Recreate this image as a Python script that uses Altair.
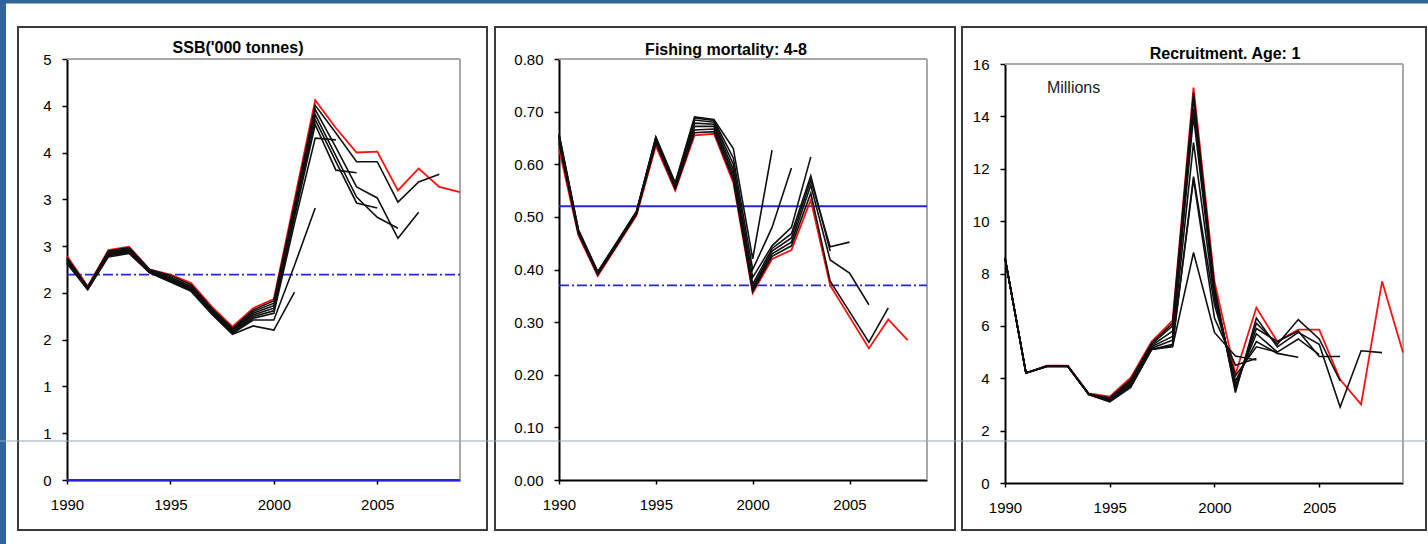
import altair as alt
import pandas as pd

CANVAS_W, CANVAS_H = 1428, 544
FIRST_YEAR, LAST_YEAR = 1990, 2009
YEAR_TICKS = [1990, 1995, 2000, 2005]

# ---- SSB ('000 tonnes): latest assessment (1990-2009) and retrospective runs
SSB_LATEST = [2.66, 2.30, 2.73, 2.77, 2.50, 2.44, 2.34, 2.06, 1.82, 2.04,
              2.15, 3.33, 4.51, 4.18, 3.89, 3.90, 3.44, 3.70, 3.48, 3.42]
SSB_RETRO = [
    [2.64, 2.29, 2.72, 2.76, 2.50, 2.43, 2.32, 2.04, 1.80, 2.02, 2.13, 3.28, 4.45, 4.12, 3.78, 3.78, 3.30, 3.54, 3.63],
    [2.63, 2.29, 2.71, 2.75, 2.49, 2.41, 2.30, 2.03, 1.79, 2.00, 2.10, 3.24, 4.40, 3.95, 3.48, 3.35, 2.87, 3.18],
    [2.62, 2.28, 2.70, 2.74, 2.48, 2.40, 2.29, 2.02, 1.78, 1.98, 2.07, 3.20, 4.34, 3.85, 3.36, 3.12, 2.99],
    [2.61, 2.28, 2.69, 2.73, 2.48, 2.39, 2.28, 2.01, 1.77, 1.96, 2.04, 3.16, 4.28, 3.78, 3.29, 3.23],
    [2.60, 2.27, 2.68, 2.72, 2.47, 2.38, 2.27, 2.00, 1.76, 1.94, 2.01, 3.12, 4.22, 3.68, 3.65],
    [2.59, 2.27, 2.67, 2.71, 2.47, 2.37, 2.26, 1.99, 1.75, 1.92, 1.98, 3.05, 4.06, 4.04],
    [2.58, 2.26, 2.66, 2.70, 2.46, 2.36, 2.25, 1.98, 1.74, 1.90, 1.90, 2.55, 3.23],
    [2.57, 2.26, 2.65, 2.69, 2.46, 2.35, 2.24, 1.97, 1.73, 1.83, 1.78, 2.23],
]
SSB_TICKS = [0, 0.556, 1.111, 1.667, 2.222, 2.778, 3.333, 3.889, 4.444, 5]
SSB_SOLID_REFS = [0.0]
SSB_DASHDOT_REFS = [2.44]

# ---- Fishing mortality, ages 4-8
F_LATEST = [0.630, 0.465, 0.388, 0.445, 0.503, 0.635, 0.550, 0.655, 0.658, 0.565,
            0.355, 0.420, 0.437, 0.532, 0.370, 0.310, 0.250, 0.305, 0.266]
F_RETRO = [
    [0.640, 0.468, 0.390, 0.447, 0.505, 0.640, 0.553, 0.660, 0.662, 0.570, 0.358, 0.425, 0.445, 0.545, 0.378, 0.320, 0.262, 0.327],
    [0.645, 0.470, 0.391, 0.448, 0.506, 0.643, 0.555, 0.665, 0.667, 0.575, 0.362, 0.430, 0.452, 0.560, 0.418, 0.393, 0.333],
    [0.650, 0.472, 0.392, 0.449, 0.507, 0.646, 0.557, 0.672, 0.672, 0.582, 0.366, 0.435, 0.460, 0.570, 0.443, 0.452],
    [0.652, 0.473, 0.393, 0.450, 0.508, 0.648, 0.559, 0.678, 0.676, 0.590, 0.372, 0.440, 0.468, 0.578, 0.435],
    [0.654, 0.474, 0.394, 0.451, 0.509, 0.650, 0.561, 0.684, 0.680, 0.600, 0.385, 0.445, 0.480, 0.614],
    [0.656, 0.475, 0.395, 0.452, 0.510, 0.651, 0.563, 0.688, 0.683, 0.612, 0.400, 0.480, 0.593],
    [0.658, 0.476, 0.396, 0.453, 0.511, 0.652, 0.565, 0.690, 0.685, 0.630, 0.420, 0.627],
]
F_TICKS = [0.0, 0.1, 0.2, 0.3, 0.4, 0.5, 0.6, 0.7, 0.8]
F_SOLID_REFS = [0.52]
F_DASHDOT_REFS = [0.37]

# ---- Recruitment at age 1 (millions)
REC_LATEST = [8.6, 4.2, 4.48, 4.48, 3.42, 3.30, 4.02, 5.40, 6.20, 15.1,
              7.7, 4.15, 6.70, 5.40, 5.86, 5.86, 3.95, 3.00, 7.70, 4.98]
REC_RETRO = [
    [8.6, 4.2, 4.47, 4.47, 3.40, 3.25, 3.95, 5.35, 6.10, 14.9, 7.5, 3.45, 6.30, 5.20, 5.75, 5.30, 2.90, 5.05, 4.98],
    [8.6, 4.2, 4.47, 4.47, 3.40, 3.22, 3.90, 5.30, 6.00, 14.7, 7.4, 3.55, 6.10, 5.30, 6.24, 5.50, 3.90],
    [8.6, 4.2, 4.46, 4.46, 3.40, 3.20, 3.85, 5.25, 5.80, 14.3, 7.3, 3.65, 5.90, 5.40, 5.80, 4.83, 4.83],
    [8.6, 4.2, 4.46, 4.46, 3.39, 3.18, 3.80, 5.20, 5.60, 14.0, 7.2, 3.75, 5.70, 5.00, 5.50, 4.90],
    [8.6, 4.2, 4.46, 4.46, 3.39, 3.16, 3.75, 5.15, 5.45, 13.0, 7.0, 3.90, 5.40, 4.95, 4.80],
    [8.6, 4.2, 4.45, 4.45, 3.38, 3.14, 3.70, 5.10, 5.30, 11.7, 6.8, 4.10, 5.20, 5.00],
    [8.6, 4.2, 4.45, 4.45, 3.38, 3.12, 3.68, 5.10, 5.25, 11.6, 6.3, 4.50, 4.75],
    [8.6, 4.2, 4.45, 4.45, 3.38, 3.10, 3.65, 5.10, 5.20, 8.8, 5.75, 4.85, 4.70],
]
REC_TICKS = [0, 2, 4, 6, 8, 10, 12, 14, 16]

FONT = "Liberation Sans"
REF_BLUE = "#2626DE"
PLOT_BORDER = "#A8A8A8"
PANEL_BORDER = "#3A3A3A"
SLIDE_BLUE = "#30649A"
DASH_DOT = [10, 3, 2, 3]

ONE_ROW = pd.DataFrame({"k": [0]})


def series_frame(latest, retro):
    rows = [{"year": FIRST_YEAR + i, "value": v, "run": "latest"} for i, v in enumerate(latest)]
    for k, vals in enumerate(retro):
        rows += [{"year": FIRST_YEAR + i, "value": v, "run": f"retro {k + 1}"} for i, v in enumerate(vals)]
    return pd.DataFrame(rows)


def panel(latest, retro, x_range, y_domain, y_range, y_ticks, y_format,
          solid_refs=(), dashdot_refs=(), extras=()):
    x_scale = alt.Scale(domain=[FIRST_YEAR, LAST_YEAR], range=list(x_range), nice=False, zero=False)
    y_scale = alt.Scale(domain=list(y_domain), range=list(y_range), nice=False, zero=False)
    common = dict(title=None, grid=False, domainColor="black", domainWidth=2,
                  tickColor="black", tickWidth=1.5, labelFont=FONT, labelFontSize=15,
                  labelColor="black", labelFlush=False, labelOverlap=False)
    x_axis = alt.Axis(orient="bottom", offset=y_range[0] - CANVAS_H, values=YEAR_TICKS,
                      format="d", tickSize=4, labelPadding=13, **common)
    y_axis = alt.Axis(orient="left", offset=-x_range[0], values=list(y_ticks),
                      format=y_format, tickSize=5, labelPadding=11, **common)

    data = series_frame(latest, retro)
    layers = []

    # plot-area border (top and right edges)
    layers.append(alt.Chart(ONE_ROW).mark_rule(color=PLOT_BORDER, strokeWidth=2).encode(
        x=alt.datum(FIRST_YEAR), x2=alt.datum(LAST_YEAR), y=alt.datum(y_domain[1])))
    layers.append(alt.Chart(ONE_ROW).mark_rule(color=PLOT_BORDER, strokeWidth=2).encode(
        x=alt.datum(LAST_YEAR), y=alt.datum(y_domain[0]), y2=alt.datum(y_domain[1])))

    if solid_refs:
        layers.append(alt.Chart(pd.DataFrame({"ref": list(solid_refs)})).mark_rule(
            color=REF_BLUE, strokeWidth=2).encode(
            y=alt.Y("ref:Q", title=None), x=alt.datum(FIRST_YEAR), x2=alt.datum(LAST_YEAR)))
    if dashdot_refs:
        layers.append(alt.Chart(pd.DataFrame({"ref": list(dashdot_refs)})).mark_rule(
            color=REF_BLUE, strokeWidth=1.7, strokeDash=DASH_DOT).encode(
            y=alt.Y("ref:Q", title=None), x=alt.datum(FIRST_YEAR), x2=alt.datum(LAST_YEAR)))

    layers.append(alt.Chart(data).transform_filter(alt.datum.run == "latest").mark_line(
        color="#FF1010", strokeWidth=1.8).encode(
        x=alt.X("year:Q", scale=x_scale, axis=x_axis),
        y=alt.Y("value:Q", scale=y_scale, axis=y_axis),
        order="year:Q"))
    layers.append(alt.Chart(data).transform_filter(alt.datum.run != "latest").mark_line(
        color="#101010", strokeWidth=1.6).encode(
        x=alt.X("year:Q", title=None), y=alt.Y("value:Q", title=None),
        detail="run:N", order="year:Q"))
    layers += list(extras)
    return alt.layer(*layers)


def box(x0, x1, y0, y1):
    return alt.Chart(ONE_ROW).mark_rect(fill="white", fillOpacity=0, stroke=PANEL_BORDER,
                                        strokeWidth=2).encode(
        x=alt.value(x0), x2=alt.value(x1), y=alt.value(y0), y2=alt.value(y1))


def strip(x0, x1, y0, y1):
    return alt.Chart(ONE_ROW).mark_rect(fill=SLIDE_BLUE).encode(
        x=alt.value(x0), x2=alt.value(x1), y=alt.value(y0), y2=alt.value(y1))


def heading(text, x, y):
    return alt.Chart(ONE_ROW).mark_text(font=FONT, fontSize=16, fontWeight="bold", color="black",
                                        align="center", baseline="middle").encode(
        x=alt.value(x), y=alt.value(y), text=alt.value(text))


millions_note = alt.Chart(ONE_ROW).mark_text(font=FONT, fontSize=16, color="#222222",
                                             align="left", baseline="middle").encode(
    x=alt.datum(1992), y=alt.datum(15.1), text=alt.value("Millions"))

ssb_panel = panel(SSB_LATEST, SSB_RETRO, (67, 460), (0, 5), (480, 59), SSB_TICKS, ".0f",
                  solid_refs=SSB_SOLID_REFS, dashdot_refs=SSB_DASHDOT_REFS)
f_panel = panel(F_LATEST, F_RETRO, (559, 927), (0, 0.8), (480, 59), F_TICKS, ".2f",
                solid_refs=F_SOLID_REFS, dashdot_refs=F_DASHDOT_REFS)
rec_panel = panel(REC_LATEST, REC_RETRO, (1005, 1403), (0, 16), (483, 64), REC_TICKS, "d",
                  extras=[millions_note])

scan_line = alt.Chart(ONE_ROW).mark_rule(color="#98A6BC", strokeWidth=1).encode(
    x=alt.value(0), x2=alt.value(CANVAS_W), y=alt.value(441))

chart = alt.layer(
    strip(0, CANVAS_W, 0, 3.5),
    strip(0, 6, 0, CANVAS_H),
    box(18, 487, 27, 530),
    box(495, 955, 27, 530),
    box(962, 1426, 27, 530),
    ssb_panel,
    f_panel,
    rec_panel,
    heading("SSB('000 tonnes)", 238, 48),
    heading("Fishing mortality: 4-8", 726, 50),
    heading("Recruitment. Age: 1", 1225, 54),
    scan_line,
).resolve_scale(x="independent", y="independent").resolve_axis(
    x="independent", y="independent"
).properties(
    width=CANVAS_W, height=CANVAS_H, autosize="none", padding=0, background="white"
).configure_view(stroke="transparent")

chart.save("out.html", embed_options={"renderer": "svg", "actions": False})
